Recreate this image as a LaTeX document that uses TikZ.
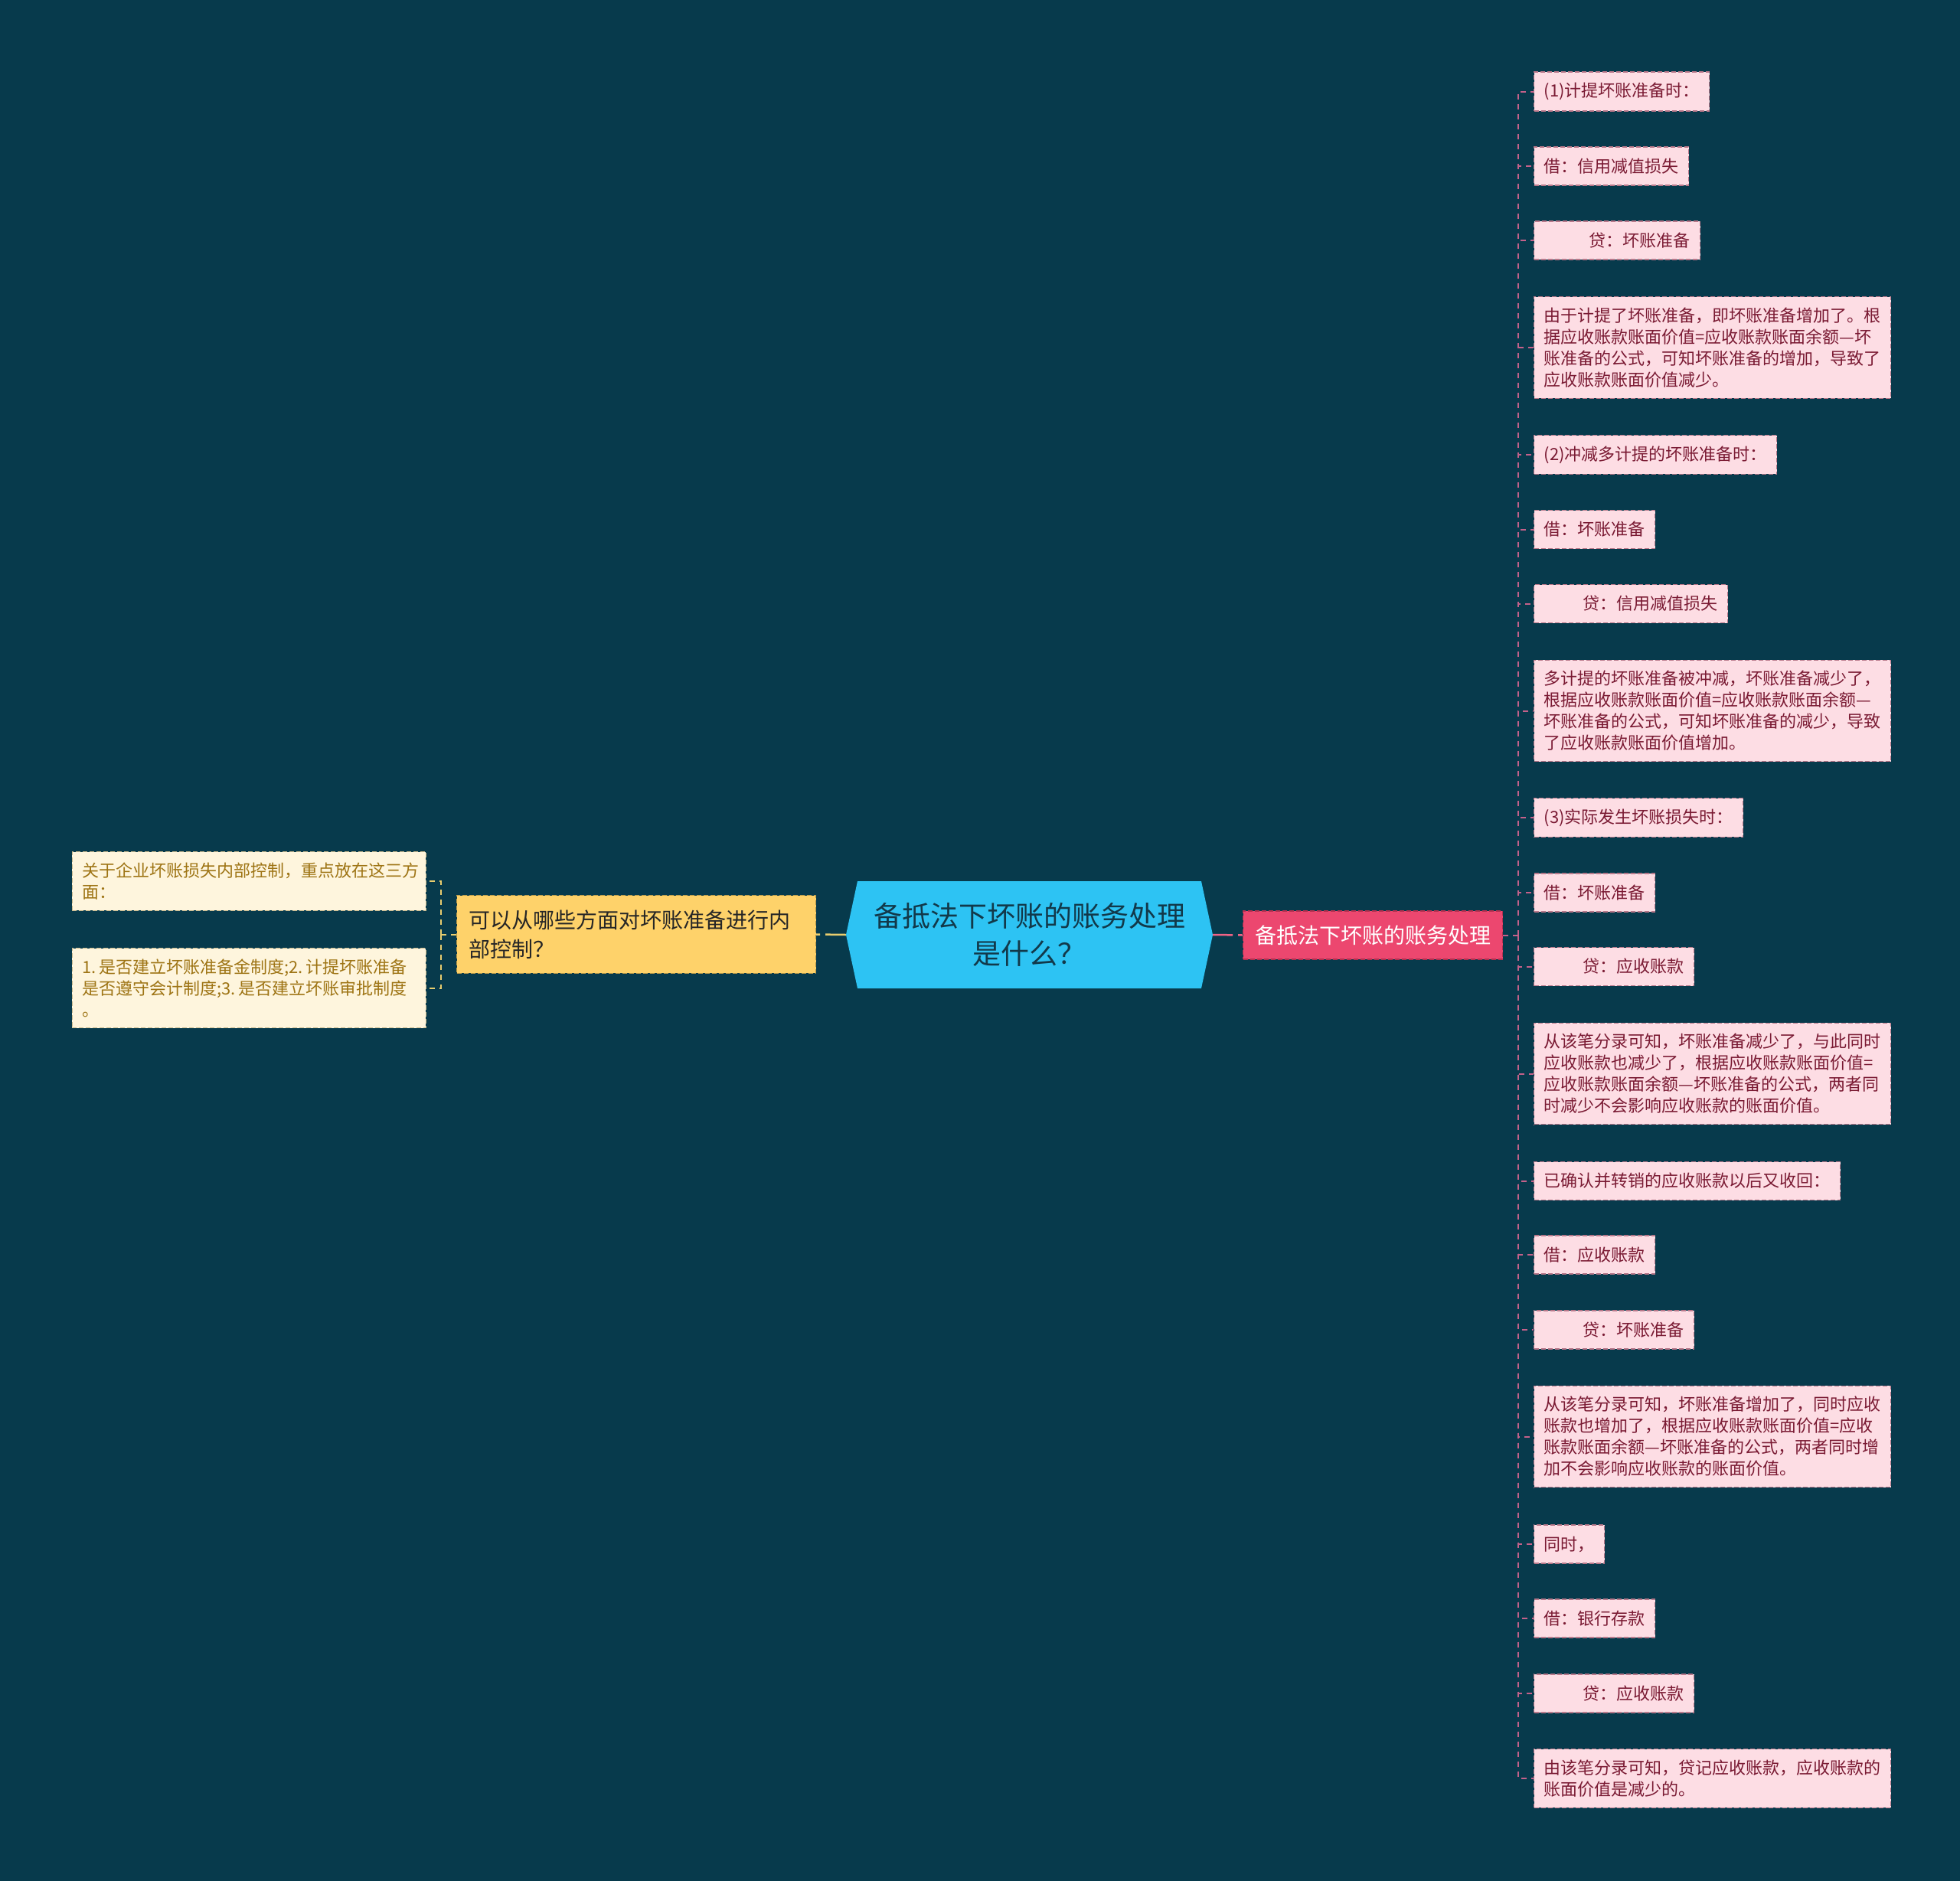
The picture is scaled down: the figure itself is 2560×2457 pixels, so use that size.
\documentclass[tikz,border=0pt]{standalone}
\usepackage{fontspec}
\setmainfont{Noto Sans CJK SC}
\definecolor{bgteal}{HTML}{073A4C}
\definecolor{hexblue}{HTML}{2DC3F3}
\definecolor{hextext}{HTML}{12394A}
\definecolor{mainpink}{HTML}{EC476F}
\definecolor{mainedge}{HTML}{B3304F}
\definecolor{branchyel}{HTML}{FED26A}
\definecolor{branchedge}{HTML}{B8994A}
\definecolor{leafpink}{HTML}{FDDDE4}
\definecolor{leafedge}{HTML}{B8788A}
\definecolor{leaftext}{HTML}{7A1A33}
\definecolor{leafcream}{HTML}{FEF5DD}
\definecolor{creamedge}{HTML}{C9B98C}
\definecolor{creamtext}{HTML}{9E7414}
\definecolor{connpink}{HTML}{C4618A}
\definecolor{connyel}{HTML}{E8CD6E}

\begin{document}
\begin{tikzpicture}[x=1pt,y=-1pt,
    rleaf/.style={anchor=west, fill=leafpink, draw=leafedge, dash pattern=on 6pt off 3pt,
        line width=1.2pt, text=leaftext, font=\fontsize{22pt}{28pt}\selectfont,
        inner xsep=13pt, inner ysep=14pt, minimum height=50pt, align=left},
    rnote/.style={rleaf, text width=440pt},
    lleaf/.style={rleaf, anchor=east, fill=leafcream, draw=creamedge, text=creamtext, text width=436pt},
    rconn/.style={draw=connpink, line width=2pt, dash pattern=on 7pt off 6pt},
    lconn/.style={draw=connyel, line width=2pt, dash pattern=on 7pt off 6pt},
    elbow/.style={to path={|- (\tikztotarget)}}]

\fill[bgteal] (0,0) rectangle (2560,2457);
\useasboundingbox (0,0) rectangle (2560,2457);

% centre topic
\node[minimum width=479pt, minimum height=140pt, inner sep=0pt, align=center, text=hextext,
    font=\fontsize{37pt}{49pt}\selectfont,
    path picture={\fill[hexblue] (path picture bounding box.west)
        -- ([xshift=15pt]path picture bounding box.north west)
        -- ([xshift=-15pt]path picture bounding box.north east)
        -- (path picture bounding box.east)
        -- ([xshift=-15pt]path picture bounding box.south east)
        -- ([xshift=15pt]path picture bounding box.south west) -- cycle;}]
    (root) at (1344.5,1221) {备抵法下坏账的账务处理\\是什么？};

% branches
\node[anchor=west, fill=mainpink, draw=mainedge, dash pattern=on 6pt off 3pt, line width=1.2pt,
    text=white, font=\fontsize{28pt}{37pt}\selectfont, inner xsep=15.5pt, inner ysep=18.5pt]
    (branchR) at (1623,1221.5) {备抵法下坏账的账务处理};
\node[anchor=west, fill=branchyel, draw=branchedge, dash pattern=on 6pt off 3pt, line width=1.2pt,
    text=black!85, font=\fontsize{28pt}{37.5pt}\selectfont, inner xsep=16pt, inner ysep=19pt,
    text width=437pt, align=left]
    (branchL) at (596,1220.5) {可以从哪些方面对坏账准备进行内\\部控制？};

% right leaves
\node[rleaf] (r1) at (2003,119.5) {(1)计提坏账准备时：};
\node[rleaf] (r2) at (2003,217) {借：信用减值损失};
\node[rleaf] (r3) at (2003,314) {\hspace*{59pt}贷：坏账准备};
\node[rnote] (r4) at (2003,454) {由于计提了坏账准备，即坏账准备增加了。根\\据应收账款账面价值=应收账款账面余额—坏\\账准备的公式，可知坏账准备的增加，导致了\\应收账款账面价值减少。};
\node[rleaf] (r5) at (2003,594) {(2)冲减多计提的坏账准备时：};
\node[rleaf] (r6) at (2003,691.5) {借：坏账准备};
\node[rleaf] (r7) at (2003,788.5) {\hspace*{51pt}贷：信用减值损失};
\node[rnote] (r8) at (2003,928.5) {多计提的坏账准备被冲减，坏账准备减少了，\\根据应收账款账面价值=应收账款账面余额—\\坏账准备的公式，可知坏账准备的减少，导致\\了应收账款账面价值增加。};
\node[rleaf] (r9) at (2003,1068) {(3)实际发生坏账损失时：};
\node[rleaf] (r10) at (2003,1166) {借：坏账准备};
\node[rleaf] (r11) at (2003,1262.5) {\hspace*{51pt}贷：应收账款};
\node[rnote] (r12) at (2003,1402.5) {从该笔分录可知，坏账准备减少了，与此同时\\应收账款也减少了，根据应收账款账面价值=\\应收账款账面余额—坏账准备的公式，两者同\\时减少不会影响应收账款的账面价值。};
\node[rleaf] (r13) at (2003,1542.5) {已确认并转销的应收账款以后又收回：};
\node[rleaf] (r14) at (2003,1639) {借：应收账款};
\node[rleaf] (r15) at (2003,1737) {\hspace*{51pt}贷：坏账准备};
\node[rnote] (r16) at (2003,1876.5) {从该笔分录可知，坏账准备增加了，同时应收\\账款也增加了，根据应收账款账面价值=应收\\账款账面余额—坏账准备的公式，两者同时增\\加不会影响应收账款的账面价值。};
\node[rleaf] (r17) at (2003,2017) {同时，};
\node[rleaf] (r18) at (2003,2114) {借：银行存款};
\node[rleaf] (r19) at (2003,2212) {\hspace*{51pt}贷：应收账款};
\node[rnote] (r20) at (2003,2323) {由该笔分录可知，贷记应收账款，应收账款的\\账面价值是减少的。};

% left leaves
\node[lleaf] (l1) at (557,1151) {关于企业坏账损失内部控制，重点放在这三方\\面：};
\node[lleaf] (l2) at (557,1290.5) {1.\,是否建立坏账准备金制度;2.\,计提坏账准备\\是否遵守会计制度;3.\,是否建立坏账审批制度\\。};

% connectors
\coordinate (rtrunk) at (1983,1221.5);
\coordinate (ltrunk) at (576,1220.5);
\draw[draw=connyel, line width=2.5pt, dash pattern=on 5pt off 7pt on 60pt off 1pt] (branchL.east) -- (root.west);
\draw[draw=mainpink!85!white, line width=2.5pt, dash pattern=on 6pt off 7pt on 60pt off 1pt] (branchR.west) -- (root.east);
\draw[rconn] (branchR.east) -- (rtrunk);
\draw[lconn] (branchL.west) -- (ltrunk);
\path[rconn]
    (rtrunk) edge[elbow] (r1.west) edge[elbow] (r2.west) edge[elbow] (r3.west)
    edge[elbow] (r4.west) edge[elbow] (r5.west) edge[elbow] (r6.west)
    edge[elbow] (r7.west) edge[elbow] (r8.west) edge[elbow] (r9.west)
    edge[elbow] (r10.west) edge[elbow] (r11.west) edge[elbow] (r12.west)
    edge[elbow] (r13.west) edge[elbow] (r14.west) edge[elbow] (r15.west)
    edge[elbow] (r16.west) edge[elbow] (r17.west) edge[elbow] (r18.west)
    edge[elbow] (r19.west) edge[elbow] (r20.west);
\path[lconn]
    (ltrunk) edge[elbow] (l1.east) edge[elbow] (l2.east);

\end{tikzpicture}
\end{document}
